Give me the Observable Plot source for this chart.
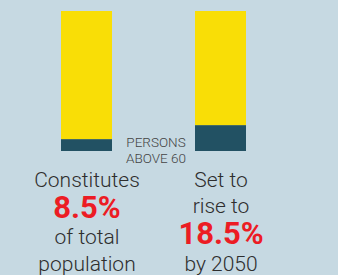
<!DOCTYPE html>
<html>
<head>
<meta charset="utf-8">
<script src="https://cdn.jsdelivr.net/npm/d3@7"></script>
<script src="https://cdn.jsdelivr.net/npm/@observablehq/plot@0.6"></script>
<style>
  html, body { margin: 0; padding: 0; background: #ffffff; }
  #chart { width: 338px; height: 275px; background: #c6d9e2; overflow: hidden; }
  #chart svg { display: block; background: transparent; }
</style>
</head>
<body>
<div id="chart"></div>
<script>
// Data
const categories = ["Today", "2050"];
const sharesAbove60 = [8.5, 18.5];
const partLabels = ["Above 60", "Rest"];
const middleLabel = ["PERSONS", "ABOVE 60"];
const captionToday = ["Constitutes", "8.5%", "of total", "population"];
const caption2050 = ["Set to", "rise to", "18.5%", "by 2050"];
const highlightToday = [false, true, false, false];
const highlight2050 = [false, false, true, false];

const rows = [];
categories.forEach((c, i) => {
  rows.push({cat: c, part: partLabels[0], value: sharesAbove60[i]});
  rows.push({cat: c, part: partLabels[1], value: 100 - sharesAbove60[i]});
});

// caption lines: baseline offsets below the bars
function captionRows(cat, lines, hl) {
  const out = [];
  let base = 35;
  lines.forEach((t, i) => {
    if (i > 0) base += 26.5 + (hl[i] ? 4.5 : 0);
    out.push({cat, text: t, big: hl[i], fs: hl[i] ? 31 : 21, dy: base});
  });
  return out;
}
const caps = [
  ...captionRows(categories[0], captionToday, highlightToday),
  ...captionRows(categories[1], caption2050, highlight2050)
];

const font = "Roboto, 'DejaVu Sans', sans-serif";

const marks = [
  Plot.barY(rows, {x: "cat", y: "value", fill: "part", inset: 0})
];
middleLabel.forEach((t, i) => {
  marks.push(Plot.text([t], {
    text: d => d, frameAnchor: "bottom", dx: 2, dy: i === 0 ? -4.5 : 11,
    fontSize: 13.5, fontWeight: 300, fill: "#444444", fontFamily: font, letterSpacing: "0.6px"
  }));
});
caps.forEach(c => {
  marks.push(Plot.text([c], {
    x: "cat", text: "text", frameAnchor: "bottom", dy: c.dy,
    fontSize: c.fs, fontWeight: c.big ? "bold" : 300,
    fill: c.big ? "#ec1c24" : "#2e2e2e", fontFamily: font
  }));
});

const chart = Plot.plot({
  width: 338,
  height: 275,
  marginTop: 11,
  marginBottom: 124,
  marginLeft: 61,
  marginRight: 92,
  style: {background: "transparent", fontFamily: font, overflow: "visible"},
  x: {domain: categories, paddingInner: 0.62, paddingOuter: 0, axis: null},
  y: {domain: [0, 100], axis: null},
  color: {domain: partLabels, range: ["#225163", "#f9de06"]},
  marks
});
document.getElementById("chart").appendChild(chart);
</script>
</body>
</html>
